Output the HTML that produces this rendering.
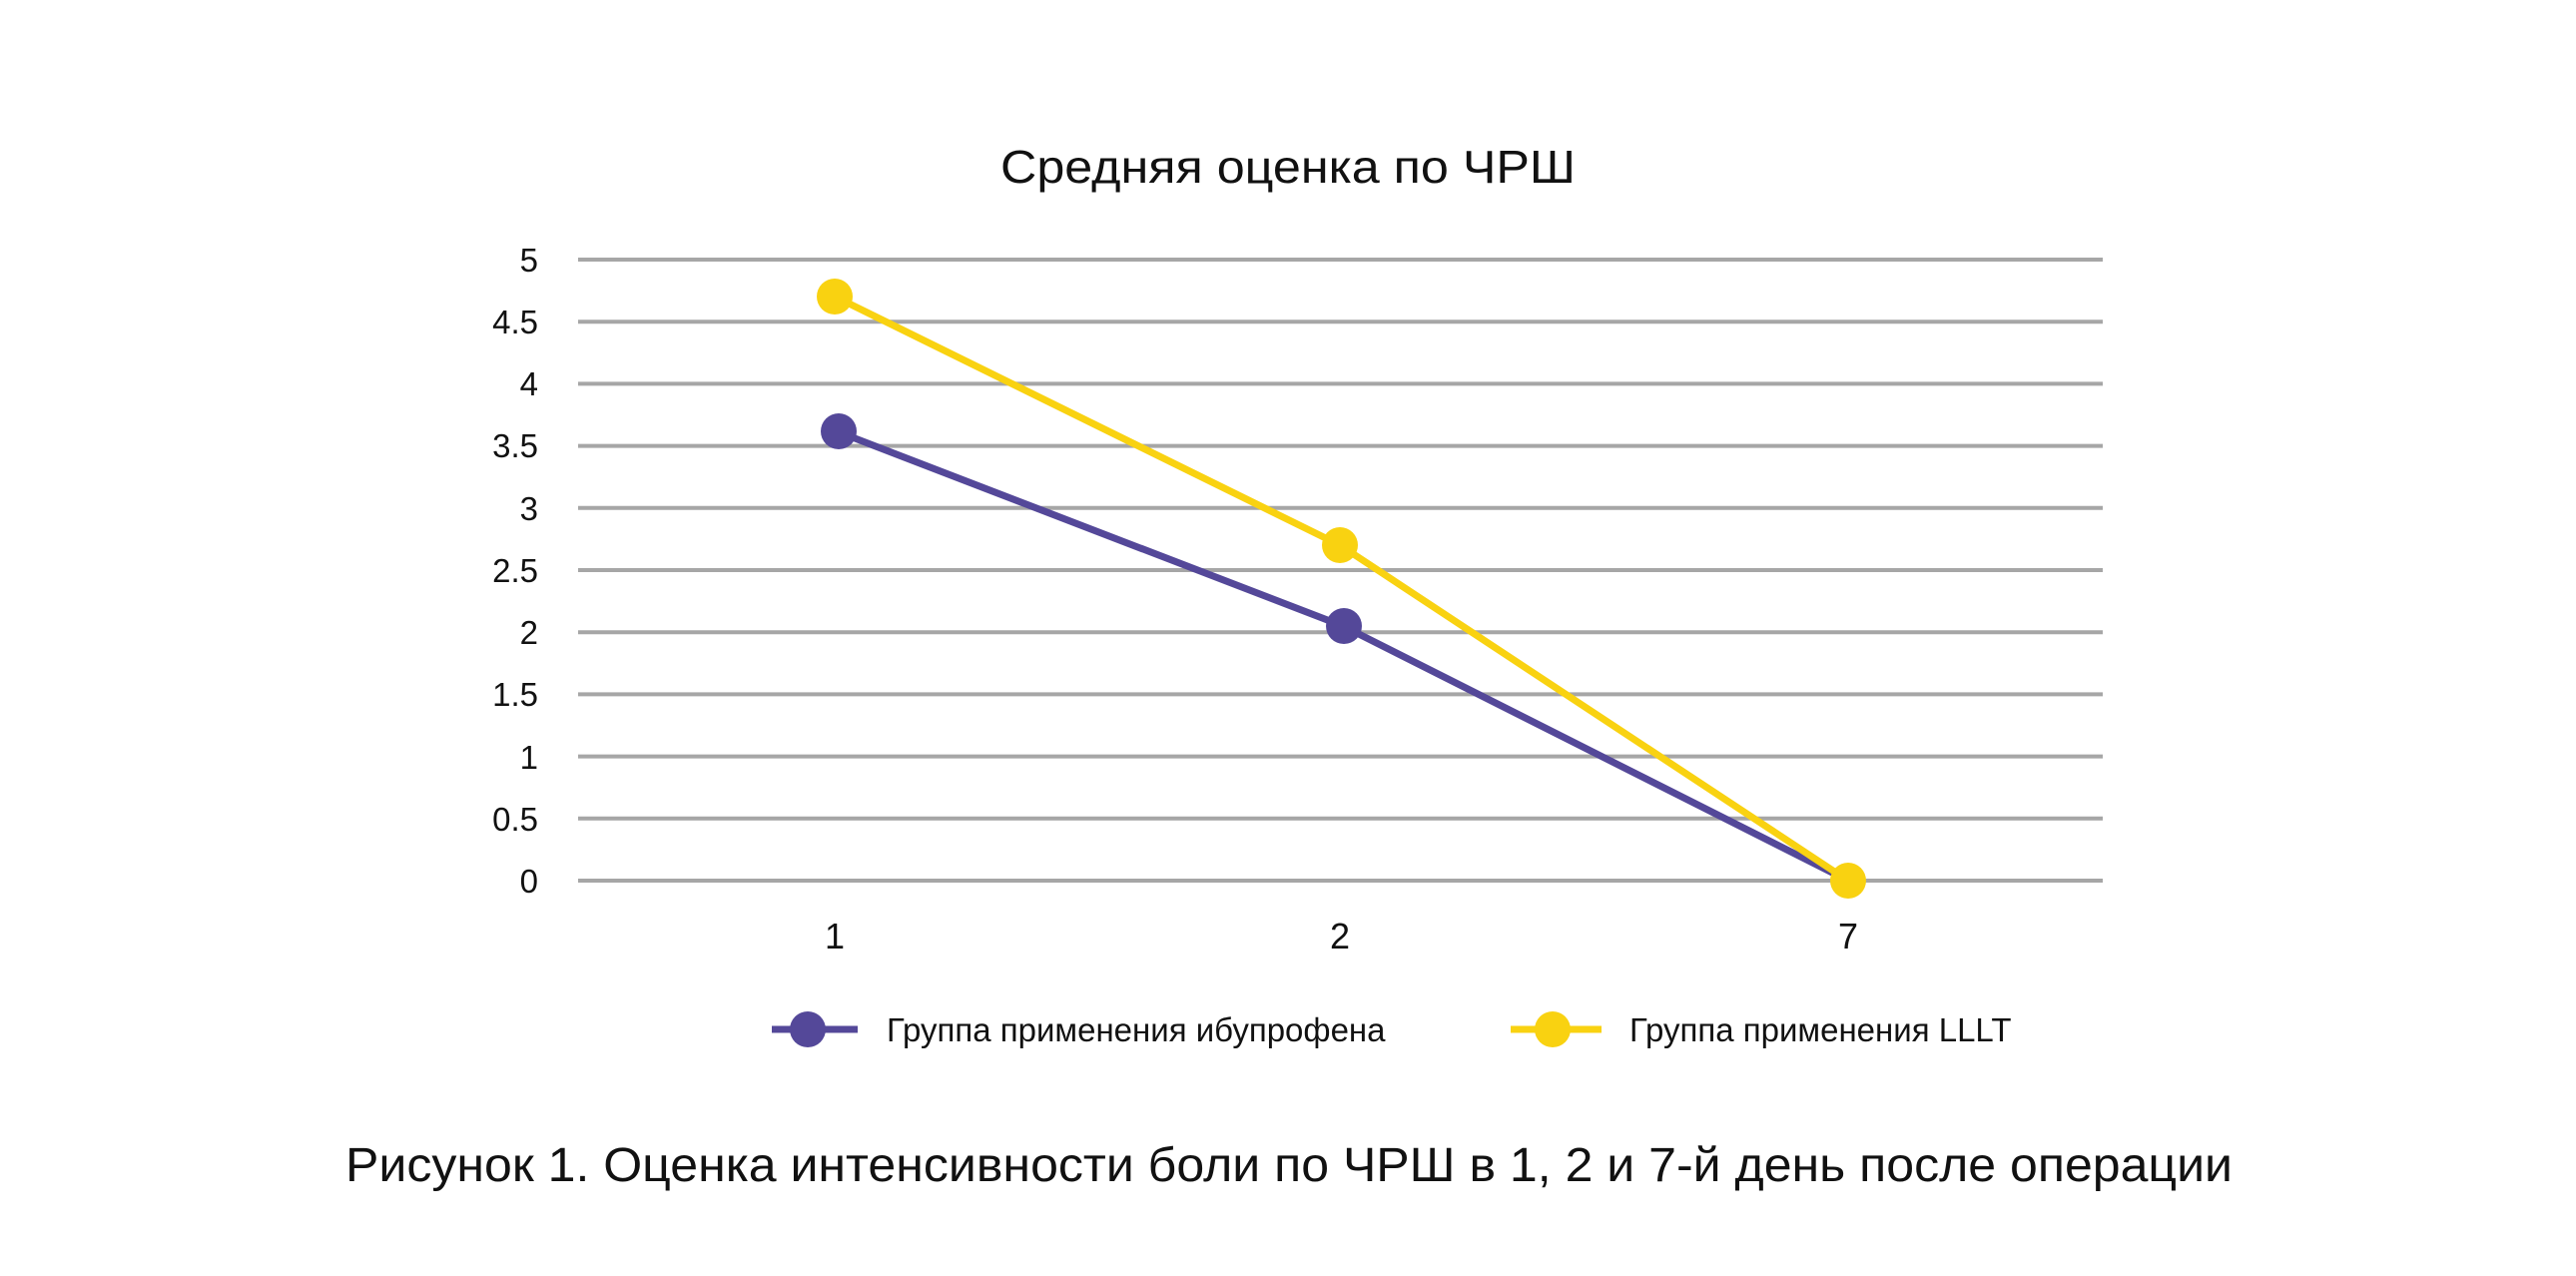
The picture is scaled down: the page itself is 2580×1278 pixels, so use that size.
<!DOCTYPE html>
<html><head><meta charset="utf-8"><style>html,body{margin:0;padding:0;background:#fff}svg{display:block}</style></head>
<body>
<svg width="2580" height="1278" viewBox="0 0 2580 1278" xmlns="http://www.w3.org/2000/svg" font-family="'Liberation Sans', sans-serif">
<rect width="2580" height="1278" fill="#fff"/>
<text x="1290" y="183" font-size="46" text-anchor="middle" fill="#111" textLength="576" lengthAdjust="spacingAndGlyphs">Средняя оценка по ЧРШ</text>
<g stroke="#a6a6a6" stroke-width="4">
<line x1="579" x2="2106" y1="260" y2="260"/><line x1="579" x2="2106" y1="322.2" y2="322.2"/>
<line x1="579" x2="2106" y1="384.4" y2="384.4"/><line x1="579" x2="2106" y1="446.6" y2="446.6"/>
<line x1="579" x2="2106" y1="508.8" y2="508.8"/><line x1="579" x2="2106" y1="571" y2="571"/>
<line x1="579" x2="2106" y1="633.2" y2="633.2"/><line x1="579" x2="2106" y1="695.4" y2="695.4"/>
<line x1="579" x2="2106" y1="757.6" y2="757.6"/><line x1="579" x2="2106" y1="819.8" y2="819.8"/>
<line x1="579" x2="2106" y1="882" y2="882"/>
</g>
<g font-size="33" text-anchor="end" fill="#111">
<text x="539" y="272">5</text><text x="539" y="334">4.5</text><text x="539" y="396">4</text>
<text x="539" y="458">3.5</text><text x="539" y="521">3</text><text x="539" y="583">2.5</text>
<text x="539" y="645">2</text><text x="539" y="707">1.5</text><text x="539" y="770">1</text>
<text x="539" y="832">0.5</text><text x="539" y="894">0</text>
</g>
<g font-size="36" text-anchor="middle" fill="#111">
<text x="836" y="950">1</text><text x="1342" y="950">2</text><text x="1851" y="950">7</text>
</g>
<polyline points="838,432 1345,627 1851,882" fill="none" stroke="#544899" stroke-width="7"/>
<polyline points="836,297 1342,546 1851,882" fill="none" stroke="#f9d211" stroke-width="7"/>
<g fill="#544899"><circle cx="840" cy="432" r="18"/><circle cx="1346" cy="627" r="18"/></g>
<g fill="#f9d211"><circle cx="836" cy="297" r="18"/><circle cx="1342" cy="546" r="18"/><circle cx="1851" cy="882" r="18"/></g>
<line x1="773" x2="859" y1="1031" y2="1031" stroke="#544899" stroke-width="7"/>
<circle cx="809" cy="1031" r="18" fill="#544899"/>
<text x="888" y="1043" font-size="33" fill="#111">Группа применения ибупрофена</text>
<line x1="1513" x2="1604" y1="1031" y2="1031" stroke="#f9d211" stroke-width="7"/>
<circle cx="1555" cy="1031" r="18" fill="#f9d211"/>
<text x="1632" y="1043" font-size="33" fill="#111">Группа применения LLLT</text>
<text x="1291" y="1183" font-size="48" text-anchor="middle" fill="#111" textLength="1890" lengthAdjust="spacingAndGlyphs">Рисунок 1. Оценка интенсивности боли по ЧРШ в 1, 2 и 7-й день после операции</text>
</svg>
</body></html>
